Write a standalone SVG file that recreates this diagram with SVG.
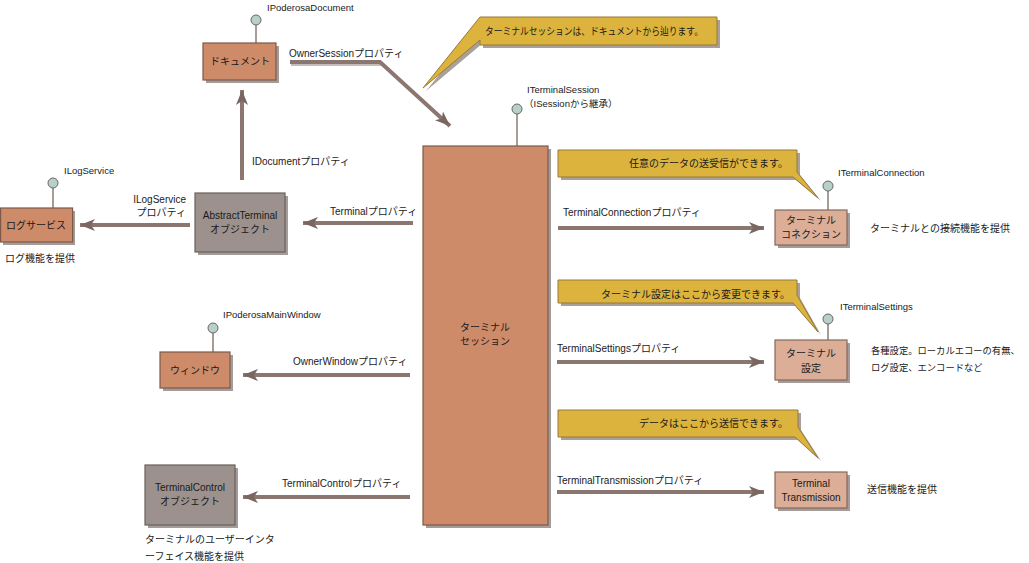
<svg xmlns="http://www.w3.org/2000/svg" width="1029" height="563" viewBox="0 0 1029 563">
<style>
text{font-family:"Liberation Sans","Noto Sans CJK JP",sans-serif;font-size:10px;fill:#1a1a1a}
.sm{font-size:9.5px}
.note{font-size:9.3px}
.mid{text-anchor:middle}
.end{text-anchor:end}
.shadow{fill:#a39c98}
.org{fill:#cd8b69;stroke:#7c5a4a;stroke-width:1.2}
.gry{fill:#9c918d;stroke:#6a605c;stroke-width:1.2}
.lt{fill:#dcae98;stroke:#86685a;stroke-width:1.2}
.call{fill:#dcb33c;stroke:#97793a;stroke-width:1}
.callsh{fill:#a8a09a}
.stem{stroke:#6e5a50;stroke-width:1.2}
.lolly{fill:#b7d0c9;stroke:#6b6663;stroke-width:1}
.arr{fill:none;stroke:#8c7670;stroke-width:4;marker-end:url(#ah)}
.arrsh{fill:none;stroke:#c4bcb8;stroke-width:4}
</style>
<defs>
<marker id="ah" markerUnits="userSpaceOnUse" markerWidth="16" markerHeight="12" refX="15" refY="6" orient="auto">
<path d="M0,0 L15,6 L0,12 L4,6 Z" fill="#7a6660"/>
</marker>
</defs>
<rect width="1029" height="563" fill="#ffffff"/>

<g id="connectors">
<polyline class="arrsh" points="291,64 381,64"/>
<polyline class="arr" points="290,62 380,62 450,126"/>
<line class="arr" x1="242" y1="180" x2="242" y2="90"/>
<line class="arr" x1="190" y1="225" x2="80" y2="225"/>
<line class="arr" x1="413" y1="223" x2="303" y2="223"/>
<line class="arr" x1="410" y1="375" x2="243" y2="375"/>
<line class="arr" x1="410" y1="497" x2="243" y2="497"/>
<line class="arr" x1="558" y1="228" x2="764" y2="228"/>
<line class="arr" x1="557" y1="362" x2="764" y2="362"/>
<line class="arr" x1="557" y1="492" x2="764" y2="492"/>
</g>

<g id="labels">
<text x="289" y="57">OwnerSessionプロパティ</text>
<text x="252" y="165">IDocumentプロパティ</text>
<text class="end" x="186" y="203">ILogService</text>
<text class="end" x="186" y="216">プロパティ</text>
<text x="330" y="215">Terminalプロパティ</text>
<text x="293" y="365">OwnerWindowプロパティ</text>
<text x="282" y="487">TerminalControlプロパティ</text>
<text x="563" y="216">TerminalConnectionプロパティ</text>
<text x="557" y="352">TerminalSettingsプロパティ</text>
<text x="557" y="484">TerminalTransmissionプロパティ</text>
</g>

<g id="document">
<line class="stem" x1="256" y1="25" x2="256" y2="43"/>
<circle class="lolly" cx="256" cy="20" r="5"/>
<text class="sm" x="267" y="11">IPoderosaDocument</text>
<rect class="shadow" x="206" y="46" width="73" height="37"/>
<rect class="org" x="203" y="43" width="73" height="37"/>
<text class="mid" x="240" y="65">ドキュメント</text>
</g>

<g id="callout-session">
<path class="callsh" d="M483,20 L720,20 L720,48 L483,48 L483,43 L426,91 Z"/>
<path class="call" d="M480,17 L717,17 L717,45 L480,45 L480,40 L423,88 Z"/>
<text x="485" y="35" textLength="218" lengthAdjust="spacingAndGlyphs">ターミナルセッションは、ドキュメントから辿ります。</text>
</g>

<g id="session">
<line class="stem" x1="517" y1="114" x2="517" y2="146"/>
<circle class="lolly" cx="517" cy="109" r="5"/>
<text class="sm" x="527" y="93">ITerminalSession</text>
<text class="sm" x="524" y="107">（ISessionから継承）</text>
<rect class="shadow" x="426" y="149" width="125" height="379"/>
<rect class="org" x="423" y="146" width="125" height="379"/>
<text class="mid" x="485" y="331">ターミナル</text>
<text class="mid" x="485" y="345">セッション</text>
</g>

<g id="logservice">
<line class="stem" x1="53" y1="188" x2="53" y2="208"/>
<circle class="lolly" cx="53" cy="183" r="5"/>
<text class="sm" x="64" y="174">ILogService</text>
<rect class="shadow" x="3" y="211" width="72" height="34"/>
<rect class="org" x="0.6" y="208" width="72" height="34"/>
<text class="mid" x="36" y="229">ログサービス</text>
<text x="5" y="262">ログ機能を提供</text>
</g>

<g id="abstractterminal">
<rect class="shadow" x="198" y="196" width="90" height="59"/>
<rect class="gry" x="195" y="193" width="90" height="59"/>
<text class="mid" x="240" y="219">AbstractTerminal</text>
<text class="mid" x="240" y="233">オブジェクト</text>
</g>

<g id="window">
<line class="stem" x1="213" y1="333" x2="213" y2="352"/>
<circle class="lolly" cx="213" cy="328" r="5"/>
<text class="sm" x="223" y="318">IPoderosaMainWindow</text>
<rect class="shadow" x="163" y="355" width="70" height="36"/>
<rect class="org" x="160" y="352" width="70" height="36"/>
<text class="mid" x="195" y="374">ウィンドウ</text>
</g>

<g id="terminalcontrol">
<rect class="shadow" x="148" y="468" width="90" height="60"/>
<rect class="gry" x="145" y="465" width="90" height="60"/>
<text class="mid" x="190" y="491">TerminalControl</text>
<text class="mid" x="190" y="505">オブジェクト</text>
<text x="145" y="543">ターミナルのユーザーインタ</text>
<text x="145" y="560">ーフェイス機能を提供</text>
</g>

<g id="callout-connection">
<path class="callsh" d="M561,153 L800,153 L800,175 L821,201 L796,180 L561,180 Z"/>
<path class="call" d="M558,150 L797,150 L797,172 L818,198 L793,177 L558,177 Z"/>
<text class="end" x="788" y="167">任意のデータの送受信ができます。</text>
</g>

<g id="connection">
<line class="stem" x1="828" y1="191" x2="828" y2="210"/>
<circle class="lolly" cx="828" cy="186" r="5"/>
<text class="sm" x="838" y="176">ITerminalConnection</text>
<rect class="shadow" x="778" y="213" width="72" height="35"/>
<rect class="lt" x="775" y="210" width="72" height="35"/>
<text class="mid" x="811" y="224">ターミナル</text>
<text class="mid" x="811" y="238">コネクション</text>
<text x="870" y="232">ターミナルとの接続機能を提供</text>
</g>

<g id="callout-settings">
<path class="callsh" d="M561,283 L800,283 L800,298 L821,335 L796,306 L561,306 Z"/>
<path class="call" d="M558,280 L797,280 L797,295 L818,332 L793,303 L558,303 Z"/>
<text class="end" x="790" y="298">ターミナル設定はここから変更できます。</text>
</g>

<g id="settings">
<line class="stem" x1="828" y1="324" x2="828" y2="340"/>
<circle class="lolly" cx="828" cy="319" r="5"/>
<text class="sm" x="840" y="310">ITerminalSettings</text>
<rect class="shadow" x="778" y="343" width="72" height="40"/>
<rect class="lt" x="775" y="340" width="72" height="40"/>
<text class="mid" x="811" y="357">ターミナル</text>
<text class="mid" x="811" y="372">設定</text>
<text class="note" x="871" y="354">各種設定。ローカルエコーの有無、</text>
<text class="note" x="871" y="371">ログ設定、エンコードなど</text>
</g>

<g id="callout-transmission">
<path class="callsh" d="M561,413 L801,413 L801,430 L821,461 L798,440 L561,440 Z"/>
<path class="call" d="M558,410 L798,410 L798,427 L818,458 L795,437 L558,437 Z"/>
<text class="end" x="788" y="427">データはここから送信できます。</text>
</g>

<g id="transmission">
<rect class="shadow" x="778" y="475" width="72" height="36"/>
<rect class="lt" x="775" y="472" width="72" height="36"/>
<text class="mid" x="811" y="487">Terminal</text>
<text class="mid" x="811" y="501">Transmission</text>
<text x="867" y="493">送信機能を提供</text>
</g>
</svg>
